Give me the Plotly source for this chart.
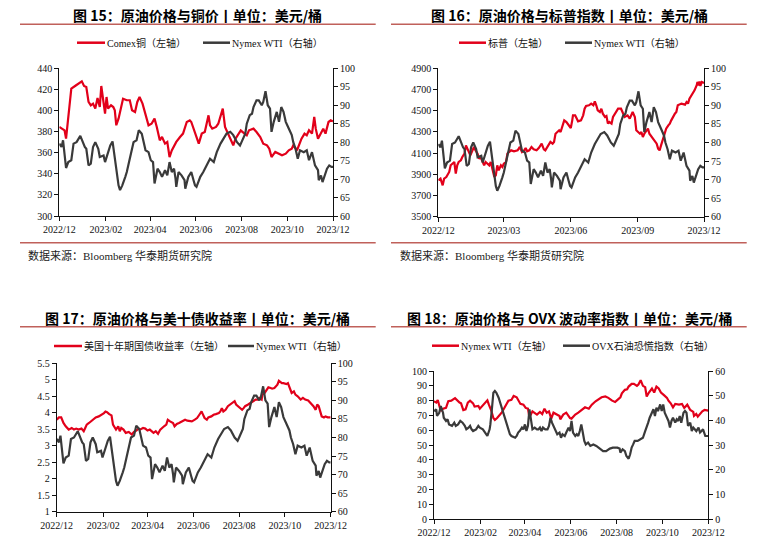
import pandas as pd
import plotly.graph_objects as go

START = pd.Timestamp("2022-12-28")
END = pd.Timestamp("2023-12-28")

# ---------------- data (day offsets from START) ----------------
wti_day = [0,3,5,9,12,16,19,23,28,31,34,36,39,42,45,48,52,54,59,61,64,68,71,73,76,79,81,84,88,90,
           93,96,99,103,106,110,113,115,119,122,125,127,131,134,137,141,144,147,150,153,155,156,159,163,167,168,172,176,179,181,
           183,188,192,197,201,206,210,215,219,223,228,232,237,241,243,248,250,254,257,259,263,266,270,272,275,278,281,283,286,290,
           293,296,299,302,306,310,312,315,318,321,326,330,333,337,341,345,346,349,351,354,357,360,363,365]
wti = [79.6,78.7,80.5,73.0,74.6,75.1,79.6,80.0,81.7,80.0,78.7,78.2,73.7,74.2,78.7,80.0,78.2,76.0,76.4,74.6,
       76.4,79.1,80.2,77.3,73.7,68.3,67.0,68.3,70.6,71.9,74.6,77.3,80.0,80.5,83.2,82.3,80.0,77.8,77.3,75.1,
       74.6,68.8,72.8,71.9,70.6,72.4,71.0,74.6,71.9,72.8,70.1,67.9,71.9,71.0,69.7,67.4,70.6,71.9,69.7,68.3,
       67.9,70.6,71.9,73.7,75.5,74.6,77.3,79.6,80.9,82.3,82.8,81.9,80.0,79.1,80.0,82.3,85.0,87.3,87.7,89.5,
       91.3,91.3,90.0,90.9,93.8,90.0,89.1,82.8,85.5,88.2,85.5,89.5,88.2,85.5,83.7,81.9,80.0,78.2,75.5,77.8,
       77.3,77.8,75.1,77.3,73.7,72.4,69.7,71.0,69.2,71.0,72.8,73.7,73.3,73.3]

copper_day = [0,3,7,9,12,14,16,21,25,30,33,36,39,42,45,48,51,54,56,59,61,63,65,69,72,74,76,79,81,85,
              90,94,97,101,104,107,111,113,116,119,123,127,130,134,137,141,144,147,150,153,156,161,165,170,174,176,181,186,190,194,
              199,201,204,209,212,218,221,225,228,232,235,239,242,247,250,253,259,263,268,272,277,280,283,288,292,297,302,306,310,312,
              317,320,323,327,330,333,337,340,342,345,349,352,355,359,362,365]
copper = [384.4,382.8,381.2,373.3,392.3,404.9,420.7,423.2,425.5,427.7,423.2,422.3,408.1,404.9,406.5,401.8,411.9,403.3,423.2,408.1,
          397.0,412.8,401.8,404.9,403.3,400.2,386.0,392.3,398.6,411.2,409.7,409.7,400.2,398.6,408.1,412.8,406.5,401.8,395.4,386.0,
          387.5,392.3,384.4,371.7,374.9,368.6,370.2,355.9,362.2,367.0,370.2,374.9,378.1,389.1,390.7,389.1,379.6,368.6,378.1,379.6,
          395.4,386.0,382.8,384.4,387.5,401.8,384.4,378.1,374.9,367.0,373.3,378.1,381.2,378.1,376.5,381.2,382.8,379.6,374.9,368.6,
          367.0,363.8,355.9,360.7,359.1,357.5,359.1,362.3,363.8,367.0,362.3,368.6,373.3,378.1,376.5,381.2,378.1,393.9,382.8,373.3,
          379.6,382.8,378.1,389.1,390.7,389.7]

spx_day = [0,3,6,8,11,15,17,19,22,24,26,28,31,33,36,38,40,42,44,47,49,51,54,56,58,60,63,65,67,70,72,74,77,79,81,83,
           86,88,90,93,95,97,100,104,109,112,115,118,120,122,125,128,131,135,138,142,145,147,151,154,157,159,161,164,166,168,
           170,173,176,180,182,184,185,188,192,196,199,201,203,207,210,213,215,217,219,222,224,226,229,231,233,235,238,240,
           245,247,251,254,256,260,263,267,270,272,274,277,279,281,283,286,288,290,293,295,297,300,302,304,306,309,311,313,
           316,318,320,322,325,327,329,334,339,341,343,345,348,350,352,355,356,358,359,360,362,365]
spx = [3843,3859,3796,3859,3874,3922,3985,4000,4016,3906,3985,4016,4032,4063,4095,4173,4142,4110,4079,4126,4158,4126,4095,4047,4063,4032,3985,4016,4000,3985,4016,3953,3874,3890,3985,3937,
       3985,3969,4000,4016,4095,4110,4126,4117,4126,4158,4110,4126,4148,4117,4126,4158,4136,4126,4148,4189,4136,4126,4180,4205,4189,4205,4283,4299,4315,4299,
       4346,4409,4393,4362,4337,4409,4456,4456,4400,4409,4456,4519,4545,4551,4567,4551,4589,4551,4504,4488,4519,4472,4441,4450,4378,4393,4378,4441,
       4504,4519,4519,4472,4441,4456,4425,4488,4441,4315,4299,4283,4299,4252,4283,4315,4331,4283,4252,4236,4220,4189,4142,4126,4173,4252,4283,4331,
       4362,4378,4409,4441,4472,4488,4551,4567,4557,4582,4567,4614,4645,4677,4692,4740,4771,4740,4777,4733,4771,4762]

ust_day = [0,3,6,9,12,14,16,20,23,26,29,33,36,38,40,43,46,49,52,56,60,63,65,67,70,73,75,77,79,82,84,86,89,92,96,100,
           103,106,109,111,115,118,121,124,127,129,132,135,138,140,143,146,148,151,155,157,160,163,167,171,174,177,180,184,187,190,
           193,194,197,200,202,206,209,212,216,218,220,222,225,228,231,234,237,239,242,245,247,249,251,255,258,261,265,268,270,273,
           274,277,280,282,285,287,290,294,296,298,300,302,306,308,310,313,316,318,321,325,328,331,335,338,340,342,345,347,349,351,
           353,356,358,361,365]
ust10y = [3.79,3.86,3.86,3.69,3.59,3.54,3.49,3.54,3.49,3.52,3.49,3.52,3.44,3.54,3.64,3.69,3.74,3.79,3.86,3.89,3.94,3.99,4.04,4.02,3.96,3.92,3.64,3.54,3.49,3.59,3.44,3.54,3.49,3.39,3.42,3.34,
          3.42,3.46,3.52,3.49,3.54,3.52,3.46,3.49,3.44,3.39,3.44,3.36,3.49,3.54,3.59,3.64,3.79,3.74,3.69,3.59,3.66,3.69,3.74,3.79,3.76,3.76,3.74,3.79,3.84,3.94,
          4.04,3.99,3.84,3.79,3.86,3.89,3.94,3.96,3.99,4.04,4.14,4.04,4.09,4.20,4.25,4.30,4.35,4.25,4.20,4.14,4.09,4.14,4.20,4.25,4.30,4.35,4.40,4.40,4.45,4.40,
          4.55,4.60,4.70,4.77,4.75,4.73,4.75,4.85,4.97,4.93,4.90,4.90,4.87,4.90,4.77,4.60,4.65,4.55,4.50,4.40,4.45,4.40,4.37,4.30,4.25,4.20,4.09,4.25,4.20,4.04,
          3.89,3.86,3.89,3.86,3.86]

ovx_day = [0,3,4,7,9,12,13,16,18,20,24,27,29,32,35,38,41,43,46,48,50,52,56,59,61,65,68,71,74,75,77,79,81,83,86,88,90,92,94,97,99,101,103,106,108,110,112,114,
           117,119,121,123,125,127,129,131,134,137,139,141,143,145,148,151,153,155,157,160,162,164,167,169,171,174,176,179,181,183,185,188,190,192,194,196,198,200,
           202,205,208,212,216,219,222,225,229,232,234,238,241,244,247,248,251,254,256,259,261,263,265,267,271,274,278,281,283,285,287,290,292,294,296,298,301,303,
           305,307,310,312,314,316,318,321,323,325,327,329,332,334,336,338,341,343,345,347,349,352,354,356,358,361,363,365]
ovx = [43.8,44.5,41.8,43.1,45.8,43.1,41.1,39.8,40.5,38.4,37.8,39.1,37.8,38.4,39.8,39.1,37.8,36.4,37.1,37.8,36.4,35.7,36.4,37.8,37.1,36.4,35.1,33.7,36.4,38.4,44.5,51.2,51.9,51.2,49.2,47.2,44.5,43.1,40.4,37.8,35.7,34.4,33.7,33.4,33.0,33.7,35.1,35.7,
       37.1,36.4,38.4,35.7,37.8,44.5,39.8,36.4,37.1,36.4,36.4,37.1,35.7,37.1,36.4,36.4,37.8,41.1,39.1,37.1,35.7,34.4,35.1,33.0,34.4,33.7,35.1,37.1,35.7,39.8,35.1,33.7,34.4,33.7,35.7,38.4,35.1,31.7,
       30.3,31.0,29.7,30.3,29.7,29.0,28.3,27.6,27.6,28.3,28.6,29.0,29.0,29.0,28.6,27.0,28.3,27.6,25.6,24.5,26.3,29.0,30.3,31.7,31.7,32.4,33.0,35.7,37.1,39.1,41.1,43.1,44.5,41.8,45.2,43.8,46.5,43.8,
       46.5,43.1,41.1,39.8,37.1,39.8,41.1,39.1,40.5,39.8,41.8,39.1,43.1,43.8,43.1,37.8,39.1,35.7,37.1,36.4,35.7,37.1,35.1,35.7,36.4,33.7,33.7,33.7]

ticks_2m = ["2022-12-28", "2023-02-28", "2023-04-28", "2023-06-28", "2023-08-28", "2023-10-28", "2023-12-28"]
labels_2m = ["2022/12", "2023/02", "2023/04", "2023/06", "2023/08", "2023/10", "2023/12"]
ticks_3m = ["2022-12-28", "2023-03-28", "2023-06-28", "2023-09-28", "2023-12-28"]
labels_3m = ["2022/12", "2023/03", "2023/06", "2023/09", "2023/12"]


def to_dates(days):
    return [START + pd.Timedelta(days=d) for d in days]


W, H = 775, 537
RED = "#E2001A"
DARK = "#3A3A3A"
RULE = "#C0605A"
SERIF = "Liberation Serif, Times New Roman, Noto Sans CJK SC, serif"
CJK = "Noto Sans CJK SC, sans-serif"


def fx(p):
    return p / W


def fy(p):
    return 1 - p / H


fig = go.Figure()


def line(days, vals, color, xa, ya, name):
    fig.add_trace(go.Scatter(x=to_dates(days), y=vals, mode="lines", name=name,
                             line=dict(color=color, width=2.2), xaxis=xa, yaxis=ya,
                             showlegend=False, hoverinfo="skip"))


line(copper_day, copper, RED, "x", "y", "Comex铜")
line(wti_day, wti, DARK, "x", "y2", "Nymex WTI")
line(spx_day, spx, RED, "x2", "y3", "标普")
line(wti_day, wti, DARK, "x2", "y4", "Nymex WTI")
line(ust_day, ust10y, RED, "x3", "y5", "美国十年期国债收益率")
line(wti_day, wti, DARK, "x3", "y6", "Nymex WTI")
line(wti_day, wti, RED, "x4", "y7", "Nymex WTI")
line(ovx_day, ovx, DARK, "x4", "y8", "OVX")

tickfont = dict(family=SERIF, size=10, color="#111")
base = dict(showline=True, linecolor="#111", linewidth=1, ticks="outside", ticklen=4,
            tickcolor="#111", tickwidth=1, showgrid=False, zeroline=False, tickfont=tickfont,
            automargin=False)


def xax(domain, anchor, tv, tt):
    d = dict(base)
    d.update(domain=[fx(domain[0]), fx(domain[1])], anchor=anchor, type="date",
             range=[START, END], tickvals=tv, ticktext=tt)
    return d


def yax(domain, anchor, rng, dtick):
    d = dict(base)
    d.update(domain=[fy(domain[1]), fy(domain[0])], anchor=anchor, range=rng,
             dtick=dtick, tick0=rng[0], side="left")
    return d


def yax_r(over, anchor, rng, dtick):
    d = dict(base)
    d.update(overlaying=over, anchor=anchor, side="right", range=rng, dtick=dtick, tick0=rng[0])
    return d


fig.update_layout(
    width=W, height=H, autosize=False,
    margin=dict(l=0, r=0, t=0, b=0, pad=0),
    paper_bgcolor="white", plot_bgcolor="rgba(0,0,0,0)",
    xaxis=xax((59.3, 333), "y", ticks_2m, labels_2m),
    yaxis=yax((68.3, 216), "x", [300, 440], 20),
    yaxis2=yax_r("y", "x", [60, 100], 5),
    xaxis2=xax((438.3, 704), "y3", ticks_3m, labels_3m),
    yaxis3=yax((68.3, 216.7), "x2", [3500, 4900], 200),
    yaxis4=yax_r("y3", "x2", [60, 100], 5),
    xaxis3=xax((56.7, 330.7), "y5", ticks_2m, labels_2m),
    yaxis5=yax((363.3, 511.7), "x3", [1, 5.5], 0.5),
    yaxis6=yax_r("y5", "x3", [60, 100], 5),
    xaxis4=xax((434, 708.3), "y7", ticks_2m, labels_2m),
    yaxis7=yax((371, 519.3), "x4", [0, 100], 10),
    yaxis8=yax_r("y7", "x4", [0, 60], 10),
)

shapes = []
annots = []


def hline(x0, x1, y, color, width):
    shapes.append(dict(type="line", xref="paper", yref="paper", x0=fx(x0), x1=fx(x1),
                       y0=fy(y), y1=fy(y), line=dict(color=color, width=width)))


def text(x, y, s, size, family, color="#111", xanchor="left"):
    annots.append(dict(x=fx(x), y=fy(y), xref="paper", yref="paper", text=s, showarrow=False,
                       xanchor=xanchor, yanchor="middle", borderpad=0,
                       font=dict(size=size, family=family, color=color)))


# titles and rules
text(197, 15, "<b>图 15：原油价格与铜价丨单位：美元/桶</b>", 14, CJK, "#000", "center")
text(569, 15, "<b>图 16：原油价格与标普指数丨单位：美元/桶</b>", 14, CJK, "#000", "center")
text(197, 318, "<b>图 17：原油价格与美十债收益率丨单位：美元/桶</b>", 14, CJK, "#000", "center")
text(570, 318, "<b>图 18：原油价格与 OVX 波动率指数丨单位：美元/桶</b>", 14, CJK, "#000", "center")
hline(20, 375.7, 24.3, RULE, 1.6)
hline(391, 746.7, 24.3, RULE, 1.6)
hline(20, 375.7, 326.7, RULE, 1.6)
hline(391, 746.7, 326.7, RULE, 1.6)


# legends
def legend_item(x0, x1, y, color, label):
    hline(x0, x1, y, color, 2.5)
    text(x1 + 1, y, label, 10, SERIF)


legend_item(77, 105, 42.7, RED, "Comex铜（左轴）")
legend_item(203, 230, 42.7, DARK, "Nymex WTI（右轴）")
legend_item(459, 486, 42.7, RED, "标普（左轴）")
legend_item(565, 592, 42.7, DARK, "Nymex WTI（右轴）")
legend_item(54, 82, 346, RED, "美国十年期国债收益率（左轴）")
legend_item(228, 254, 346, DARK, "Nymex WTI（右轴）")
legend_item(432, 459, 345.7, RED, "Nymex WTI（左轴）")
legend_item(563, 590, 345.7, DARK, "OVX石油恐慌指数（右轴）")

# sources
hline(20, 375.7, 242.7, RULE, 1.6)
hline(391, 746.7, 242.7, RULE, 1.6)
text(27, 255, "数据来源：Bloomberg 华泰期货研究院", 11, SERIF, "#222")
text(399, 255, "数据来源：Bloomberg 华泰期货研究院", 11, SERIF, "#222")

fig.update_layout(shapes=shapes, annotations=annots)
fig.write_html("out.html")
